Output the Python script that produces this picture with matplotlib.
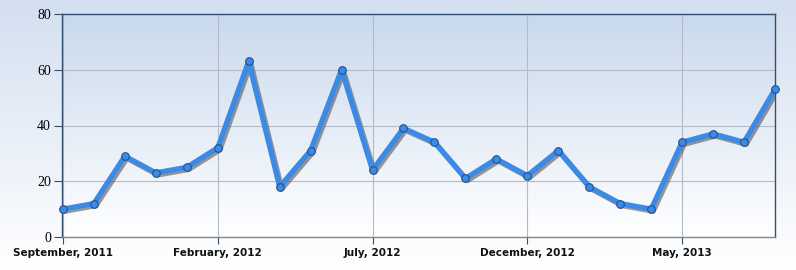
import numpy as np
import matplotlib
matplotlib.use('Agg')
import matplotlib.pyplot as plt
import matplotlib.patheffects as pe
from matplotlib.colors import LinearSegmentedColormap

# Datos
meses = ['2011-09', '2011-10', '2011-11', '2011-12', '2012-01', '2012-02',
         '2012-03', '2012-04', '2012-05', '2012-06', '2012-07', '2012-08',
         '2012-09', '2012-10', '2012-11', '2012-12', '2013-01', '2013-02',
         '2013-03', '2013-04', '2013-05', '2013-06', '2013-07', '2013-08']
valores = [10, 12, 29, 23, 25, 32, 63, 18, 31, 60, 24, 39,
           34, 21, 28, 22, 31, 18, 12, 10, 34, 37, 34, 53]
etiquetas_x = ['September, 2011', 'February, 2012', 'July, 2012',
               'December, 2012', 'May, 2013']
posiciones_x = [0, 5, 10, 15, 20]
ticks_y = [0, 20, 40, 60, 80]

x = np.arange(len(meses))

fig = plt.figure(figsize=(7.96, 2.70), dpi=100)

# Fondo degradado de la figura
fondo = fig.add_axes([0, 0, 1, 1], zorder=-10)
grad = np.linspace(0, 1, 256).reshape(-1, 1)
cmap_fig = LinearSegmentedColormap.from_list('f', ['#d3dff0', '#ffffff'])
fondo.imshow(grad, aspect='auto', cmap=cmap_fig, extent=[0, 1, 0, 1])
fondo.axis('off')

ax = fig.add_axes([62 / 796, 33 / 270, 713 / 796, 223 / 270])
cmap_ax = LinearSegmentedColormap.from_list('a', ['#c9d9ee', '#ffffff'])
ax.imshow(grad, aspect='auto', cmap=cmap_ax,
          extent=[-0.03, len(meses) - 1, 0, 80], zorder=0)

ax.set_xlim(-0.03, len(meses) - 1)
ax.set_ylim(0, 80)

# Línea con sombra
ax.plot(x, valores, color='#3b8ae6', linewidth=3.8, zorder=3,
        solid_joinstyle='round', solid_capstyle='round',
        path_effects=[pe.SimpleLineShadow(offset=(1.5, -1.5), shadow_color='#555555', alpha=0.6),
                      pe.Normal()])
ax.plot(x, valores, linestyle='none', marker='o', markersize=5.5,
        markerfacecolor='#3b8ae6', markeredgecolor='#24508a',
        markeredgewidth=0.8, zorder=4, clip_on=False)

ax.set_yticks(ticks_y)
ax.set_yticklabels([str(t) for t in ticks_y], fontfamily='Liberation Serif', fontsize=10)
ax.set_xticks(posiciones_x)
ax.set_xticklabels(etiquetas_x, fontfamily='DejaVu Sans', fontsize=7.5, fontweight='bold',
                   color='#111111')

ax.grid(True, color='#b4bac6', linewidth=0.8)
for gl in ax.get_xgridlines() + ax.get_ygridlines():
    gl.set_zorder(1)

for s in ax.spines.values():
    s.set_color('#34506e')
    s.set_linewidth(1)
ax.spines['bottom'].set_color('#7a8a9a')
ax.tick_params(axis='y', length=6, color='#34506e', pad=2)
ax.tick_params(axis='x', length=5, color='#34506e', pad=3)

fig.savefig('out.png', dpi=100)
